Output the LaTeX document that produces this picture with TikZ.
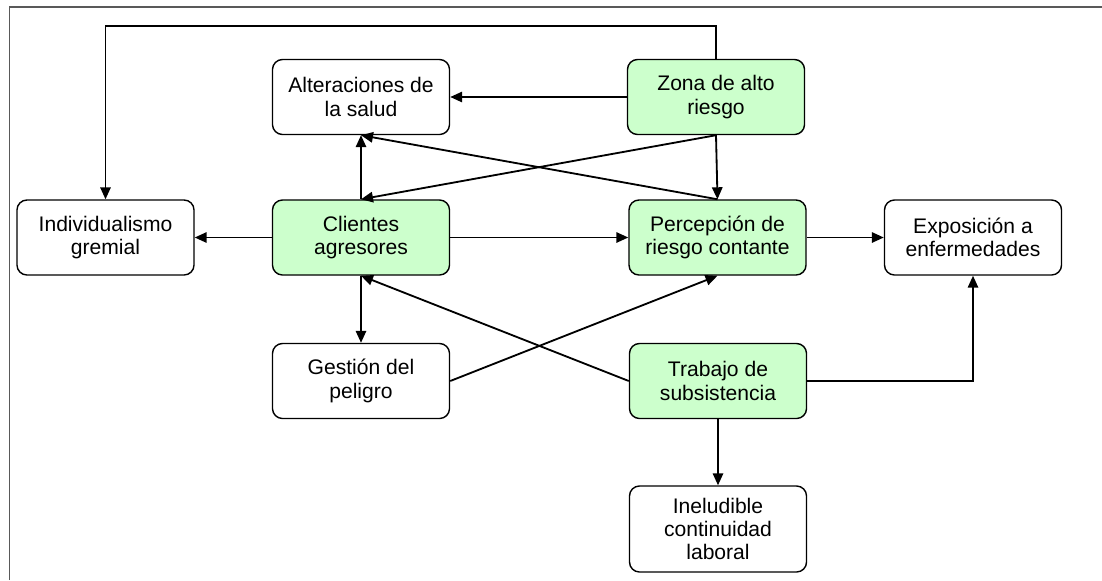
\documentclass[tikz,border=0pt]{standalone}
\usepackage{fontspec}
\setmainfont{Liberation Sans}
\usepackage{xcolor}
\usepackage{tikz}
\usetikzlibrary{arrows.meta}
\definecolor{palegreen}{RGB}{204, 255, 204}

\begin{document}
\begin{tikzpicture}[x = 0.025cm, y = 0.025cm,
	box/.style = {draw, line width = 1pt, rounded corners = 0.25cm, align = center, minimum width = 4.425cm, minimum height = 1.875cm, inner sep = 0pt, font = \fontsize{15}{16.5}\selectfont},
	greenbox/.style = {box, fill = palegreen},
	link/.style = {->, line width = 1.3pt},
	>={Triangle[length = 0.3cm, width = 0.26cm]}]
	\useasboundingbox (0,0) rectangle (1102,-580);
	\draw[gray!70!black, line width = 1pt] (9.5,-580) -- (9.5,-7) -- (1102,-7);
	\node (alter) at (361,-97) [box] {Alteraciones de\\la salud};
	\node (zona) at (716,-97) [greenbox] {Zona de alto\\riesgo};
	\node (indiv) at (105.5,-237.5) [box] {Individualismo\\gremial};
	\node (client) at (361,-237.5) [greenbox] {Clientes\\agresores};
	\node (percep) at (717.5,-237.5) [greenbox] {Percepción de\\riesgo contante};
	\node (expos) at (973,-237.5) [box] {Exposición a\\enfermedades};
	\node (gestion) at (361,-381) [box] {Gestión del\\peligro};
	\node (trabajo) at (718,-381) [greenbox] {Trabajo de\\subsistencia};
	\node (inelud) at (718,-529) [box, minimum height = 2.15cm] {Ineludible\\continuidad\\laboral};
	\coordinate (top) at (716,-26);
	\draw[link] (zona.north) -- (top) -| (indiv.north);
	\draw[link] (zona.west) -- (alter.east);
	\draw[link] (zona.south) -- (client.north);
	\draw[link] (zona.south) -- (percep.north);
	\draw[link] (percep.north) -- (alter.south);
	\draw[link] (client.north) -- (alter.south);
	\draw[link] (client.west) -- (indiv.east);
	\draw[link] (client.east) -- (percep.west);
	\draw[link] (client.south) -- (gestion.north);
	\draw[link] (trabajo.west) -- (client.south);
	\draw[link] (gestion.east) -- (percep.south);
	\draw[link] (percep.east) -- (expos.west);
	\draw[link] (trabajo.east) -| (expos.south);
	\draw[link] (trabajo.south) -- (inelud.north);
\end{tikzpicture}
\end{document}
